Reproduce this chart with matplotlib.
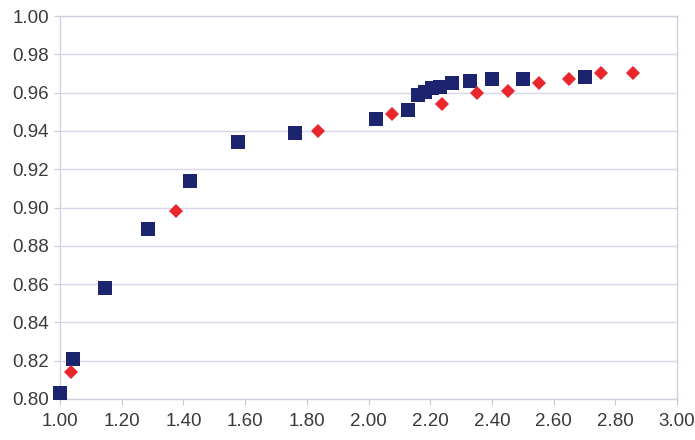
import matplotlib.pyplot as plt
import numpy as np

# navy squares series
sq_x = [1.00, 1.042, 1.146, 1.285, 1.421, 1.577, 1.762, 2.024, 2.129, 2.161,
        2.183, 2.205, 2.232, 2.270, 2.329, 2.400, 2.499, 2.702]
sq_y = [0.803, 0.821, 0.858, 0.889, 0.914, 0.934, 0.939, 0.946, 0.951, 0.9587,
        0.9605, 0.9622, 0.963, 0.9648, 0.966, 0.967, 0.967, 0.968]

# red diamonds series
dm_x = [1.036, 1.376, 1.835, 2.075, 2.237, 2.350, 2.451, 2.553, 2.651, 2.754, 2.857]
dm_y = [0.814, 0.898, 0.940, 0.949, 0.954, 0.960, 0.961, 0.965, 0.967, 0.970, 0.970]

xticks = np.arange(1.0, 3.01, 0.2)
yticks = np.arange(0.80, 1.001, 0.02)

plt.rcParams['font.family'] = ['Liberation Sans', 'DejaVu Sans']

fig = plt.figure(figsize=(6.95, 4.4), dpi=100)
ax = fig.add_axes([0.0863, 0.0932, 0.888, 0.8704])

ax.plot(sq_x, sq_y, 's', color='#1c2470', markersize=10, markeredgewidth=0,
        zorder=3, clip_on=False)
ax.plot(dm_x, dm_y, 'D', color='#e8262b', markersize=7.5, markeredgewidth=0,
        zorder=3, clip_on=False)

ax.set_xlim(1.0, 3.0)
ax.set_ylim(0.80, 1.00)
ax.set_xticks(xticks)
ax.set_yticks(yticks)
ax.set_xticklabels(['%.2f' % v for v in xticks])
ax.set_yticklabels(['%.2f' % v for v in yticks])
ax.tick_params(labelsize=13.5, colors='#3a3a3a', length=4, width=0.8)
ax.tick_params(axis='x', color='#c8c8d8', pad=6)
ax.tick_params(axis='y', color='#c8c8d8', pad=4)

ax.grid(axis='y', color='#d6d6e6', linewidth=1.0)
for s in ax.spines.values():
    s.set_color('#d0d0de')
    s.set_linewidth(1.0)

fig.savefig('out.png', dpi=100)
